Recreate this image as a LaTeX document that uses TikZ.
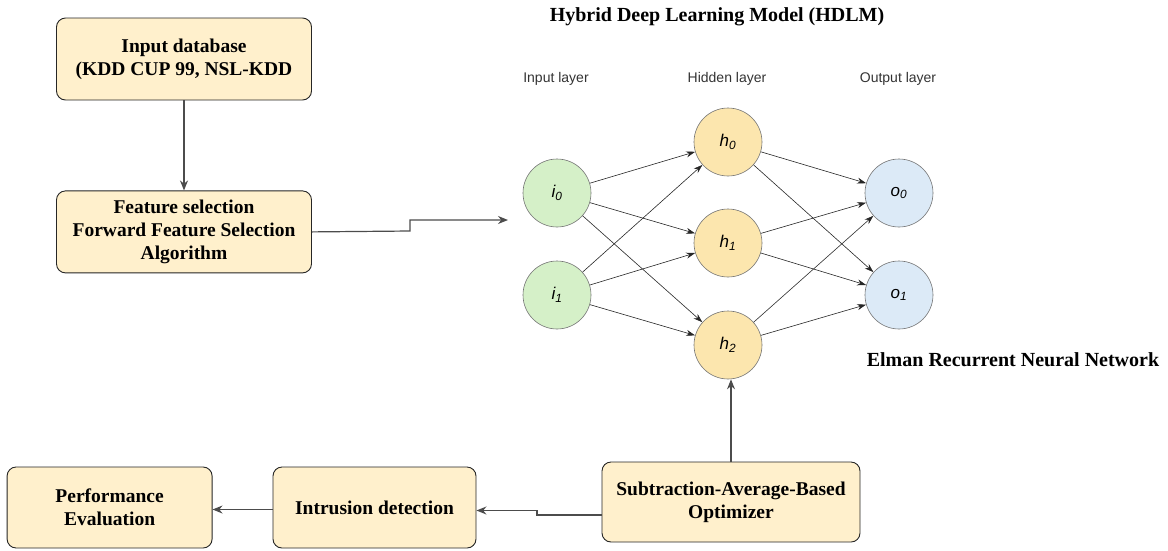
\documentclass[tikz,border=0pt]{standalone}
\usepackage{fontspec}
\setmainfont{Liberation Serif}
\newfontfamily\nnfont{Liberation Sans}
\usepackage{xcolor}
\usepackage{tikz}
\usetikzlibrary{arrows.meta, positioning, calc}

\definecolor{boxfill}{HTML}{FFF0CC}
\definecolor{ingreen}{HTML}{D5F0C8}
\definecolor{hidyellow}{HTML}{FCE6AE}
\definecolor{outblue}{HTML}{DCEAF7}

\begin{document}
\begin{tikzpicture}[
    x=1pt, y=-1pt,
    procbox/.style={rectangle, rounded corners=9pt, draw=black!85, fill=boxfill, line width=0.9pt, font=\bfseries\fontsize{19.5}{23}\selectfont, minimum height=82pt, align=center, inner sep=2pt},
    neuron/.style={circle, draw=black!55, line width=0.6pt, minimum size=68pt, inner sep=0pt, font=\nnfont\itshape\fontsize{17}{19}\selectfont},
    inneuron/.style={neuron, fill=ingreen},
    hidneuron/.style={neuron, fill=hidyellow},
    outneuron/.style={neuron, fill=outblue},
    layerlab/.style={font=\nnfont\fontsize{14}{16}\selectfont, text=black!80},
    headtext/.style={font=\bfseries\fontsize{20}{24}\selectfont},
    conn/.style={-{Stealth[length=10pt, width=8pt]}, line width=1.2pt, black!70},
    syn/.style={-{Stealth[length=9pt, width=6pt]}, line width=0.6pt, black!85}
]
\path[use as bounding box] (0,0) rectangle (1168,550);

% Left pipeline
\node[procbox, minimum width=255pt] (indb) at (184,59) {Input database\\(KDD CUP 99, NSL-KDD};
\node[procbox, minimum width=255pt, below=90pt of indb] (featsel) {Feature selection\\Forward Feature Selection\\Algorithm};

\draw[conn] (indb) -- (featsel);

% Network heading
\node[headtext] (hdlm) at (717,17) {Hybrid Deep Learning Model (HDLM)};
\node[layerlab] (inlab) at (556,79) {Input layer};
\node[layerlab] (hidlab) at (727,79) {Hidden layer};
\node[layerlab] (outlab) at (898,79) {Output layer};

% Neurons
\node[inneuron] (i0) at (557,193) {i\textsubscript{0}};
\node[inneuron] (i1) at (557,295) {i\textsubscript{1}};
\node[hidneuron] (h0) at (728,142) {h\textsubscript{0}};
\node[hidneuron] (h1) at (728,243) {h\textsubscript{1}};
\node[hidneuron] (h2) at (728,345) {h\textsubscript{2}};
\node[outneuron] (o0) at (899,193) {o\textsubscript{0}};
\node[outneuron] (o1) at (899,295) {o\textsubscript{1}};

\foreach \a in {i0,i1}
  \foreach \b in {h0,h1,h2}
    \draw[syn] (\a) -- (\b);
\foreach \a in {h0,h1,h2}
  \foreach \b in {o0,o1}
    \draw[syn] (\a) -- (\b);

\node[headtext] (elman) at (1013,360) {Elman Recurrent Neural Network};

% Feature selection into network
\coordinate (fsjog) at (410,231);
\coordinate (nnin) at (508,220);
\draw[conn] (featsel.east) -- (fsjog) |- (nnin);

% Bottom row
\node[procbox, minimum width=258pt, minimum height=80pt] (sabo) at (731,502) {Subtraction-Average-Based\\Optimizer};
\node[procbox, minimum width=203pt, minimum height=81pt] (intr) at (374.5,507.5) {Intrusion detection};
\node[procbox, minimum width=205pt, minimum height=81pt, left=60pt of intr] (perf) {Performance\\Evaluation};

\draw[conn] (sabo.north) -- (sabo.north |- h2.south);
\coordinate (sjog) at (537,515);
\draw[conn] (sabo.west |- sjog) -- (sjog) |- ([yshift=-3pt]intr.east);
\draw[conn] ([yshift=-2pt]intr.west) -- ([yshift=-2pt]perf.east);

\end{tikzpicture}
\end{document}
